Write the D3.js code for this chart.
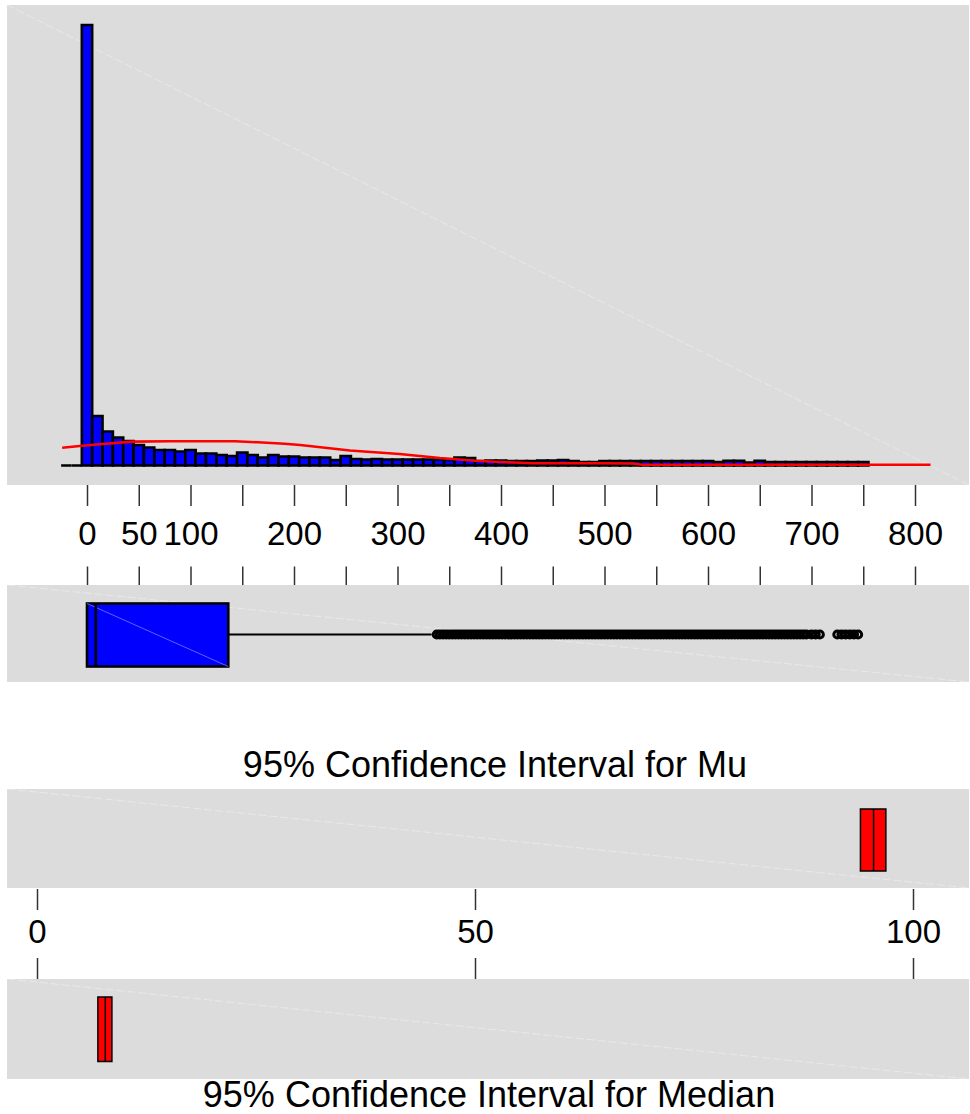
<!DOCTYPE html>
<html>
<head>
<meta charset="UTF-8">
<title>Graphical summary</title>
<script src="https://d3js.org/d3.v7.min.js"></script>
<style>
  body { margin: 0; background: #fff; }
  svg { display: block; }
  text { font-family: "Liberation Sans", Arial, sans-serif; fill: #000; }
  .tick line { stroke: #333; stroke-width: 1.5; }
</style>
</head>
<body>
<svg width="970" height="1114"></svg>
<script>
// histogram bins (centre of each 10-wide bin) and counts
const binCenters = [-20, -10, 0, 10, 20, 30, 40, 50, 60, 70, 80, 90, 100, 110, 120, 130, 140, 150, 160, 170,
  180, 190, 200, 210, 220, 230, 240, 250, 260, 270, 280, 290, 300, 310, 320, 330, 340, 350, 360, 370,
  380, 390, 400, 410, 420, 430, 440, 450, 460, 470, 480, 490, 500, 510, 520, 530, 540, 550, 560, 570,
  580, 590, 600, 610, 620, 630, 640, 650, 660, 670, 680, 690, 700, 710, 720, 730, 740, 750];
const binCounts = [0, 0, 4400, 495, 340, 280, 245, 205, 180, 155, 155, 140, 155, 120, 120, 105, 95, 130, 105, 80,
  105, 90, 90, 80, 80, 80, 55, 95, 65, 60, 65, 60, 60, 60, 60, 60, 60, 55, 80, 75,
  45, 50, 50, 45, 45, 45, 50, 50, 55, 45, 35, 35, 45, 45, 45, 45, 45, 45, 45, 45,
  45, 45, 45, 35, 48, 48, 30, 48, 35, 35, 35, 35, 35, 35, 35, 35, 35, 35];

// fitted curve drawn over the histogram
const curveX = [-24, -7, 12, 44, 80, 143, 165, 191, 206, 254, 302, 341, 375, 399, 431, 496, 528, 536, 815];
const curveY = [178, 195, 212, 238, 242, 242, 232, 218, 205, 150, 115, 75, 48, 35, 22, 22, 20, 8, 8];

// box plot: min, Q1, median, Q3, upper whisker
const boxStats = [0, 0, 8.5, 136.5, 333];
const outliers = [338, 341, 344, 347, 350, 353, 356, 359, 362, 365,
  368, 371, 374, 377, 380, 383, 386, 389, 392, 395,
  398, 401, 404, 407, 410, 413, 416, 419, 422, 425,
  428, 431, 434, 437, 440, 443, 446, 449, 452, 455,
  458, 461, 464, 467, 470, 473, 476, 479, 482, 485,
  488, 491, 494, 497, 500, 503, 506, 509, 512, 515,
  518, 521, 524, 527, 530, 533, 536, 539, 542, 545,
  548, 551, 554, 557, 560, 563, 566, 569, 572, 575,
  578, 581, 584, 587, 590, 593, 596, 599, 602, 605,
  608, 611, 614, 617, 620, 623, 626, 629, 632, 635,
  638, 641, 644, 647, 650, 653, 656, 659, 662, 665,
  668, 671, 674, 677, 680, 683, 686, 689, 692, 695,
  700, 704, 708, 725, 729, 733, 737, 741, 745];

// confidence intervals: lower, estimate, upper
const muCI = [94.0, 95.5, 96.9];
const medianCI = [6.95, 7.8, 8.55];

const histTicks = [0, 50, 100, 150, 200, 250, 300, 350, 400, 450, 500, 550, 600, 650, 700, 750, 800];
const histTickLabels = ["0", "50", "100", "", "200", "", "300", "", "400", "", "500", "", "600", "", "700", "", "800"];
const ciTicks = [0, 50, 100];
const ciTickLabels = ["0", "50", "100"];

const svg = d3.select("svg");
const panelL = 7, panelR = 969;
const gray = "#dcdcdc";

function panel(y0, y1) {
  svg.append("rect").attr("x", panelL).attr("y", y0).attr("width", panelR - panelL).attr("height", y1 - y0)
    .attr("fill", gray);
  svg.append("line").attr("x1", panelL).attr("y1", y0).attr("x2", panelR).attr("y2", y1)
    .attr("stroke", "#fff").attr("stroke-opacity", 0.35).attr("stroke-dasharray", "8 3");
}

// ---- histogram panel
panel(5, 485);
const x = d3.scaleLinear().domain([0, 800]).range([87, 915]);
const y = d3.scaleLinear().domain([0, d3.max(binCounts)]).range([465.5, 25]);

svg.append("g").selectAll("path")
  .data(binCenters.map((c, i) => ({c: c, n: binCounts[i]})))
  .enter().append("path")
  .attr("d", d => {
    const x0 = x(d.c - 5), x1 = x(d.c + 5), y0 = y(0), y1 = y(d.n);
    return `M${x0},${y0}V${y1}H${x1}V${y0}Z`;
  })
  .attr("fill", "#0000ff")
  .attr("stroke", "#000")
  .attr("stroke-width", 2.6);

const line = d3.line().x(d => x(d[0])).y(d => y(d[1]));
svg.append("path")
  .datum(curveX.map((v, i) => [v, curveY[i]]))
  .attr("d", line)
  .attr("fill", "none")
  .attr("stroke", "#ff0000")
  .attr("stroke-width", 2.6);

// axis between histogram and box plot
const axTop = svg.append("g").attr("transform", "translate(0,485)")
  .call(d3.axisBottom(x).tickValues(histTicks).tickSize(21).tickPadding(15.6)
    .tickFormat((d, i) => histTickLabels[i]));
axTop.select(".domain").remove();
axTop.selectAll("text").style("font-size", "33px");

const axBot = svg.append("g").attr("transform", "translate(0,585)")
  .call(d3.axisTop(x).tickValues(histTicks).tickSize(18.5).tickFormat(""));
axBot.select(".domain").remove();

// ---- box plot panel
panel(585, 682);
const bTop = 603.5, bBot = 666.5, bMid = 634.5;
svg.append("line").attr("x1", x(boxStats[3])).attr("x2", x(boxStats[4]))
  .attr("y1", bMid).attr("y2", bMid).attr("stroke", "#000").attr("stroke-width", 2.2);
svg.append("rect").attr("x", x(boxStats[1])).attr("y", bTop)
  .attr("width", x(boxStats[3]) - x(boxStats[1])).attr("height", bBot - bTop)
  .attr("fill", "#0000ff").attr("stroke", "#000").attr("stroke-width", 2.6);
svg.append("line").attr("x1", x(boxStats[1])).attr("y1", bTop).attr("x2", x(boxStats[3])).attr("y2", bBot)
  .attr("stroke", "#7b7bff").attr("stroke-width", 0.8);
svg.append("line").attr("x1", x(boxStats[2])).attr("x2", x(boxStats[2]))
  .attr("y1", bTop).attr("y2", bBot).attr("stroke", "#000").attr("stroke-width", 2.6);
svg.append("g").selectAll("circle").data(outliers).enter().append("circle")
  .attr("cx", d => x(d)).attr("cy", bMid).attr("r", 3.6)
  .attr("fill", "none").attr("stroke", "#000").attr("stroke-width", 3);

// ---- confidence intervals
const cx = d3.scaleLinear().domain([0, 100]).range([37, 913]);

svg.append("text").attr("x", 495).attr("y", 776.7).attr("text-anchor", "middle")
  .style("font-size", "36px").text("95% Confidence Interval for Mu");

panel(789, 888);
function ciBox(ci, y0, y1) {
  svg.append("rect").attr("x", cx(ci[0])).attr("y", y0).attr("width", cx(ci[2]) - cx(ci[0])).attr("height", y1 - y0)
    .attr("fill", "#ff0000").attr("stroke", "#000").attr("stroke-width", 1.5);
  svg.append("line").attr("x1", cx(ci[1])).attr("x2", cx(ci[1])).attr("y1", y0).attr("y2", y1)
    .attr("stroke", "#000").attr("stroke-width", 1.5);
}
ciBox(muCI, 809, 871);

const ax2Top = svg.append("g").attr("transform", "translate(0,889)")
  .call(d3.axisBottom(cx).tickValues(ciTicks).tickSize(21).tickPadding(9.3)
    .tickFormat((d, i) => ciTickLabels[i]));
ax2Top.select(".domain").remove();
ax2Top.selectAll("text").style("font-size", "33px");
const ax2Bot = svg.append("g").attr("transform", "translate(0,979)")
  .call(d3.axisTop(cx).tickValues(ciTicks).tickSize(21).tickFormat(""));
ax2Bot.select(".domain").remove();

panel(979, 1079);
ciBox(medianCI, 997, 1061.5);

svg.append("text").attr("x", 489).attr("y", 1106.7).attr("text-anchor", "middle")
  .style("font-size", "36px").text("95% Confidence Interval for Median");
</script>
</body>
</html>
